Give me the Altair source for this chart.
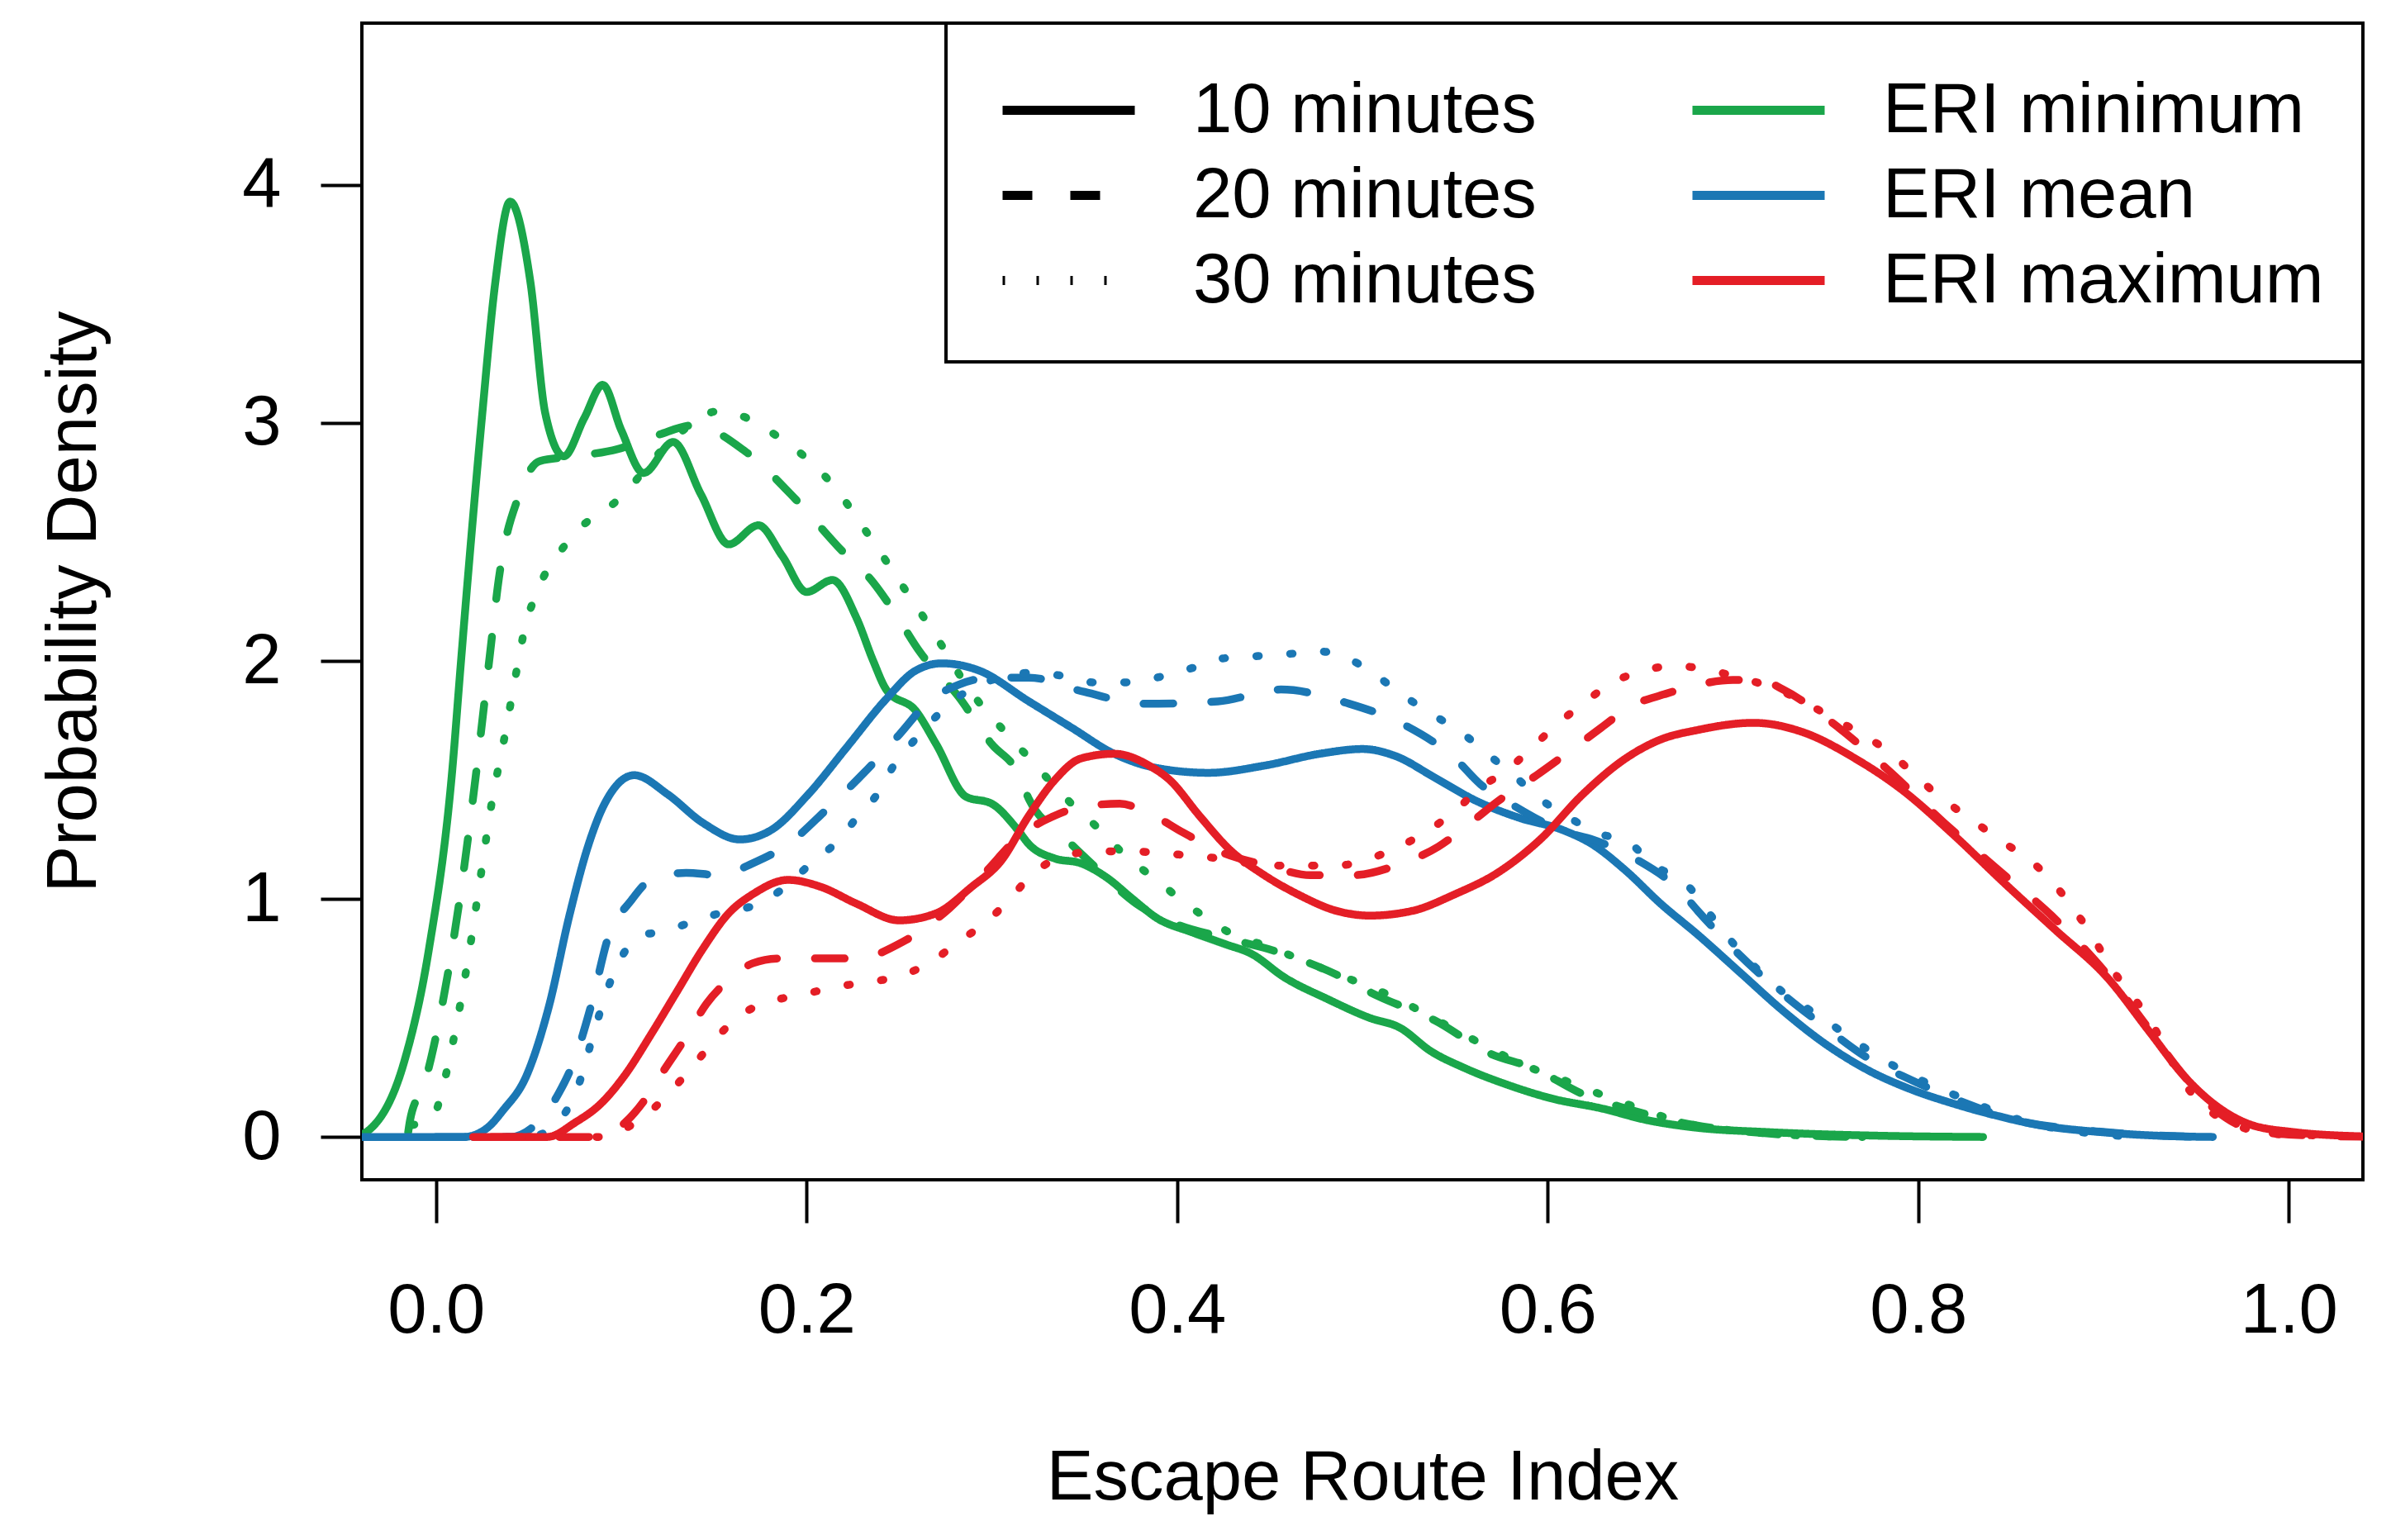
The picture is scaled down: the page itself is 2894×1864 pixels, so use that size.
import altair as alt
import pandas as pd

# ---------------- data ----------------
eri_levels = ["ERI minimum", "ERI mean", "ERI maximum"]
eri_colors = ["#1aa64a", "#1b77b4", "#e41e26"]
dur_levels = ["10 minutes", "20 minutes", "30 minutes"]
dur_dashes = [[1, 0], [36, 46], [3, 38]]

x_ticks = [0.0, 0.2, 0.4, 0.6, 0.8, 1.0]
y_ticks = [0, 1, 2, 3, 4]

min10_x = [-0.045, -0.036, -0.017, -0.004, 0.009, 0.013, 0.017, 0.025, 0.032, 0.040, 0.051, 0.059,
           0.069, 0.080, 0.090, 0.100, 0.112, 0.128, 0.143, 0.158, 0.174, 0.187, 0.200, 0.214,
           0.227, 0.236, 0.243, 0.259, 0.270, 0.286, 0.300, 0.314, 0.320, 0.334, 0.348, 0.362,
           0.376, 0.389, 0.408, 0.426, 0.440, 0.458, 0.481, 0.504, 0.520, 0.537, 0.555, 0.578,
           0.603, 0.629, 0.654, 0.679, 0.720, 0.780, 0.835]
min10_y = [0.0, 0.03, 0.32, 0.78, 1.56, 1.95, 2.33, 3.04, 3.59, 3.93, 3.59, 3.04,
           2.86, 3.02, 3.16, 2.97, 2.79, 2.92, 2.70, 2.49, 2.57, 2.44, 2.29, 2.34,
           2.18, 2.00, 1.88, 1.79, 1.65, 1.43, 1.40, 1.29, 1.23, 1.17, 1.15, 1.09,
           1.00, 0.92, 0.86, 0.81, 0.77, 0.67, 0.58, 0.50, 0.46, 0.36, 0.29, 0.22,
           0.16, 0.12, 0.07, 0.04, 0.02, 0.005, 0.0]

min20_x = [-0.015, -0.014, -0.006, 0.003, 0.013, 0.022, 0.029, 0.034, 0.045, 0.056, 0.075, 0.098,
           0.120, 0.139, 0.167, 0.194, 0.217, 0.236, 0.247, 0.261, 0.282, 0.300, 0.314, 0.320,
           0.339, 0.355, 0.378, 0.401, 0.424, 0.449, 0.481, 0.509, 0.539, 0.569, 0.592, 0.619,
           0.642, 0.679, 0.710, 0.740, 0.770]
min20_y = [0.02, 0.07, 0.23, 0.54, 1.01, 1.55, 2.02, 2.35, 2.70, 2.84, 2.86, 2.89,
           2.95, 2.99, 2.88, 2.68, 2.48, 2.33, 2.21, 2.04, 1.85, 1.65, 1.53, 1.42,
           1.26, 1.14, 0.98, 0.89, 0.84, 0.79, 0.70, 0.59, 0.49, 0.35, 0.29, 0.18,
           0.12, 0.05, 0.02, 0.005, 0.0]

min30_x = [-0.013, -0.002, 0.005, 0.011, 0.018, 0.024, 0.030, 0.037, 0.044, 0.048, 0.054, 0.072,
           0.100, 0.125, 0.153, 0.185, 0.213, 0.236, 0.254, 0.266, 0.275, 0.286, 0.305, 0.318,
           0.343, 0.357, 0.371, 0.387, 0.412, 0.428, 0.449, 0.481, 0.516, 0.550, 0.585, 0.615,
           0.642, 0.679, 0.710, 0.740, 0.770]
min30_y = [0.05, 0.08, 0.25, 0.47, 0.78, 1.09, 1.40, 1.68, 1.98, 2.14, 2.28, 2.51,
           2.69, 2.91, 3.05, 2.94, 2.75, 2.50, 2.29, 2.15, 2.04, 1.90, 1.72, 1.61,
           1.40, 1.30, 1.19, 1.09, 0.94, 0.86, 0.80, 0.70, 0.59, 0.45, 0.31, 0.22,
           0.14, 0.05, 0.02, 0.005, 0.0]

mean10_x = [-0.045, 0.0, 0.015, 0.028, 0.036, 0.049, 0.061, 0.072, 0.082, 0.091, 0.107, 0.125, 0.144,
            0.164, 0.181, 0.201, 0.222, 0.243, 0.259, 0.273, 0.293, 0.320, 0.343, 0.366, 0.389,
            0.417, 0.447, 0.477, 0.500, 0.518, 0.539, 0.562, 0.585, 0.608, 0.624, 0.642, 0.661,
            0.681, 0.704, 0.727, 0.750, 0.773, 0.796, 0.819, 0.842, 0.865, 0.899, 0.930, 0.959]
mean10_y = [0.0, 0.0, 0.0, 0.04, 0.11, 0.26, 0.55, 0.93, 1.22, 1.40, 1.52, 1.44, 1.32,
            1.25, 1.29, 1.44, 1.64, 1.84, 1.96, 1.99, 1.96, 1.83, 1.72, 1.61, 1.55,
            1.53, 1.56, 1.61, 1.63, 1.60, 1.51, 1.41, 1.34, 1.29, 1.23, 1.12, 0.98,
            0.85, 0.69, 0.53, 0.39, 0.28, 0.20, 0.14, 0.09, 0.05, 0.02, 0.005, 0.0]

mean20_x = [0.0, 0.040, 0.052, 0.066, 0.075, 0.084, 0.093, 0.105, 0.116, 0.135, 0.153, 0.171,
            0.190, 0.210, 0.231, 0.250, 0.266, 0.282, 0.300, 0.320, 0.350, 0.382, 0.422, 0.456,
            0.493, 0.523, 0.550, 0.564, 0.580, 0.610, 0.624, 0.647, 0.672, 0.681, 0.699, 0.727,
            0.750, 0.773, 0.796, 0.823, 0.853, 0.888, 0.920, 0.955]
mean20_y = [0.0, 0.0, 0.04, 0.18, 0.33, 0.56, 0.84, 0.99, 1.08, 1.11, 1.10, 1.15,
            1.23, 1.37, 1.53, 1.69, 1.83, 1.90, 1.93, 1.93, 1.87, 1.82, 1.83, 1.88,
            1.82, 1.73, 1.59, 1.48, 1.40, 1.28, 1.25, 1.17, 1.03, 0.95, 0.80, 0.60,
            0.46, 0.33, 0.24, 0.15, 0.07, 0.03, 0.01, 0.0]

mean30_x = [0.020, 0.050, 0.061, 0.077, 0.086, 0.093, 0.102, 0.112, 0.121, 0.137, 0.153, 0.174,
            0.190, 0.201, 0.215, 0.227, 0.239, 0.247, 0.261, 0.273, 0.286, 0.300, 0.320, 0.336,
            0.355, 0.373, 0.389, 0.408, 0.424, 0.442, 0.461, 0.477, 0.495, 0.509, 0.523, 0.539,
            0.555, 0.569, 0.583, 0.596, 0.612, 0.626, 0.645, 0.656, 0.675, 0.695, 0.722, 0.750,
            0.780, 0.796, 0.828, 0.860, 0.888, 0.920]
mean30_y = [0.0, 0.0, 0.03, 0.22, 0.46, 0.63, 0.78, 0.85, 0.86, 0.90, 0.94, 0.98,
            1.06, 1.14, 1.23, 1.34, 1.45, 1.56, 1.69, 1.79, 1.87, 1.92, 1.95, 1.94,
            1.91, 1.91, 1.93, 1.97, 2.01, 2.02, 2.03, 2.04, 2.00, 1.93, 1.85, 1.77,
            1.69, 1.60, 1.51, 1.42, 1.34, 1.28, 1.23, 1.15, 1.06, 0.86, 0.64, 0.49,
            0.33, 0.26, 0.15, 0.06, 0.02, 0.0]

max10_x = [0.020, 0.060, 0.075, 0.089, 0.102, 0.116, 0.130, 0.144, 0.158, 0.171, 0.190, 0.208,
           0.227, 0.250, 0.270, 0.289, 0.305, 0.320, 0.334, 0.348, 0.366, 0.385, 0.396, 0.412,
           0.428, 0.447, 0.465, 0.486, 0.504, 0.527, 0.550, 0.573, 0.596, 0.619, 0.642, 0.661,
           0.681, 0.711, 0.738, 0.766, 0.791, 0.819, 0.846, 0.874, 0.902, 0.925, 0.943, 0.961,
           0.980, 1.003, 1.030, 1.060]
max10_y = [0.0, 0.0, 0.06, 0.14, 0.26, 0.43, 0.61, 0.79, 0.94, 1.02, 1.08, 1.05,
           0.98, 0.91, 0.94, 1.05, 1.16, 1.35, 1.50, 1.59, 1.61, 1.56, 1.50, 1.35,
           1.21, 1.10, 1.02, 0.95, 0.93, 0.95, 1.02, 1.11, 1.25, 1.44, 1.59, 1.67,
           1.71, 1.74, 1.70, 1.59, 1.46, 1.27, 1.07, 0.87, 0.67, 0.44, 0.26, 0.13,
           0.05, 0.02, 0.005, 0.0]

max20_x = [0.030, 0.085, 0.102, 0.114, 0.123, 0.135, 0.146, 0.158, 0.171, 0.185, 0.208, 0.227,
           0.252, 0.277, 0.295, 0.316, 0.334, 0.350, 0.369, 0.385, 0.403, 0.426, 0.449, 0.472,
           0.495, 0.518, 0.541, 0.560, 0.573, 0.594, 0.610, 0.629, 0.645, 0.663, 0.681, 0.700,
           0.715, 0.727, 0.757, 0.784, 0.814, 0.842, 0.872, 0.899, 0.922, 0.941, 0.961, 0.980,
           1.000, 1.050]
max20_y = [0.0, 0.0, 0.06, 0.17, 0.28, 0.42, 0.56, 0.66, 0.73, 0.75, 0.75, 0.75,
           0.82, 0.96, 1.10, 1.27, 1.35, 1.39, 1.40, 1.36, 1.28, 1.19, 1.14, 1.10,
           1.10, 1.14, 1.22, 1.33, 1.41, 1.52, 1.61, 1.72, 1.81, 1.86, 1.90, 1.92,
           1.92, 1.88, 1.72, 1.54, 1.32, 1.13, 0.93, 0.71, 0.48, 0.28, 0.11, 0.03,
           0.01, 0.0]

max30_x = [0.050, 0.090, 0.098, 0.116, 0.130, 0.141, 0.153, 0.164, 0.181, 0.199, 0.215, 0.233,
           0.252, 0.268, 0.282, 0.298, 0.312, 0.320, 0.339, 0.357, 0.376, 0.394, 0.412, 0.431,
           0.449, 0.470, 0.486, 0.504, 0.520, 0.534, 0.550, 0.564, 0.578, 0.592, 0.606, 0.619,
           0.633, 0.652, 0.670, 0.681, 0.699, 0.727, 0.754, 0.782, 0.810, 0.840, 0.869, 0.890,
           0.906, 0.925, 0.945, 0.971, 0.998, 1.030, 1.060]
max30_y = [0.0, 0.0, 0.02, 0.11, 0.22, 0.32, 0.43, 0.51, 0.57, 0.60, 0.63, 0.65,
           0.68, 0.74, 0.82, 0.91, 1.02, 1.09, 1.18, 1.20, 1.20, 1.19, 1.18, 1.16,
           1.14, 1.14, 1.14, 1.17, 1.22, 1.28, 1.37, 1.47, 1.54, 1.64, 1.74, 1.82,
           1.90, 1.96, 1.98, 1.97, 1.94, 1.87, 1.76, 1.63, 1.44, 1.27, 1.10, 0.89,
           0.69, 0.49, 0.21, 0.05, 0.01, 0.005, 0.0]

series = [
    ("ERI minimum", "10 minutes", min10_x, min10_y),
    ("ERI minimum", "20 minutes", min20_x, min20_y),
    ("ERI minimum", "30 minutes", min30_x, min30_y),
    ("ERI mean", "10 minutes", mean10_x, mean10_y),
    ("ERI mean", "20 minutes", mean20_x, mean20_y),
    ("ERI mean", "30 minutes", mean30_x, mean30_y),
    ("ERI maximum", "10 minutes", max10_x, max10_y),
    ("ERI maximum", "20 minutes", max20_x, max20_y),
    ("ERI maximum", "30 minutes", max30_x, max30_y),
]

rows = []
for eri, dur, xs, ys in series:
    for xv, yv in zip(xs, ys):
        rows.append({"eri": eri, "dur": dur, "x": xv, "y": yv})
df = pd.DataFrame(rows)

# ---------------- chart ----------------
FONT = "Liberation Sans"
FS = 85
W, H = 2422, 1400

# long horizontal line symbol (path scaled by sqrt(symbolSize)/2)
LINE_SYMBOL = "M-4,0H4"

legend_common = dict(
    title=None, orient="none", legendY=63, direction="vertical", symbolType=LINE_SYMBOL,
    symbolSize=1600, symbolStrokeWidth=11, labelFontSize=FS, labelFont=FONT,
    labelColor="black", labelOffset=108, rowPadding=17, labelLimit=0, padding=0,
)

lines = alt.Chart(df).mark_line(
    strokeWidth=9.5, clip=True, interpolate="monotone", strokeCap="round", strokeJoin="round"
).encode(
    x=alt.X("x:Q",
            scale=alt.Scale(domain=[-0.04, 1.04], nice=False, zero=False),
            axis=alt.Axis(values=x_ticks, format=".1f", title="Escape Route Index",
                          tickSize=52, labelPadding=65, labelFlush=False,
                          titleY=386, titleBaseline="alphabetic")),
    y=alt.Y("y:Q",
            scale=alt.Scale(domain=[-0.18, 4.68], nice=False, zero=False),
            axis=alt.Axis(values=y_ticks, format="d", title="Probability Density",
                          tickSize=50, labelPadding=48, labelAngle=0, labelAlign="right",
                          labelBaseline="middle", labelFlush=False,
                          titleX=-323, titleY=700, titleAngle=270,
                          titleBaseline="alphabetic", titleAlign="center")),
    color=alt.Color("eri:N", sort=eri_levels,
                    scale=alt.Scale(domain=eri_levels, range=eri_colors),
                    legend=alt.Legend(legendX=1648, **legend_common)),
    strokeDash=alt.StrokeDash("dur:N", sort=dur_levels,
                              scale=alt.Scale(domain=dur_levels, range=dur_dashes),
                              legend=alt.Legend(legendX=813, symbolStrokeColor="black",
                                                **legend_common)),
)

legend_box = alt.Chart(pd.DataFrame({"box": [1]})).mark_rect(
    fill="white", stroke="black", strokeWidth=4
).encode(
    x=alt.value(707), x2=alt.value(W), y=alt.value(0), y2=alt.value(410)
)

chart = alt.layer(legend_box, lines).properties(
    width=W, height=H,
    padding={"left": 430, "top": 20, "right": 20, "bottom": 412},
    autosize=alt.AutoSizeParams(type="none"),
).configure_view(
    stroke="black", strokeWidth=4
).configure_axis(
    grid=False, domain=False, tickColor="black", tickWidth=4,
    labelColor="black", titleColor="black", labelFont=FONT, titleFont=FONT,
    labelFontSize=FS, titleFontSize=FS, titleFontWeight="normal"
)

chart.save("out.html", embed_options={"renderer": "svg", "actions": False})
